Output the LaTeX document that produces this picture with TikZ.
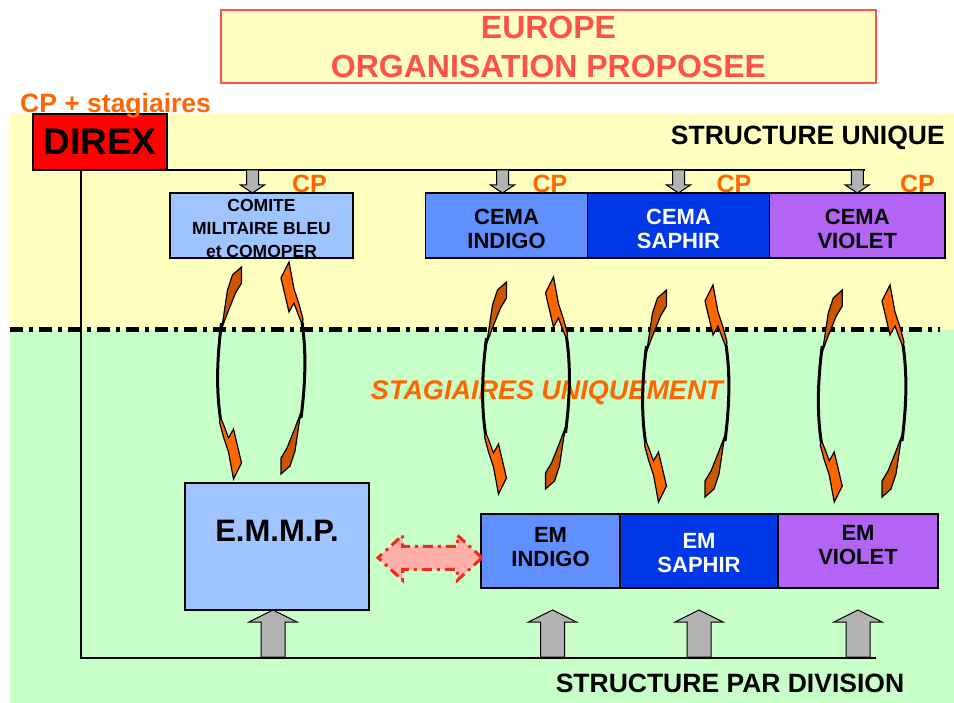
\documentclass[tikz,border=0pt]{standalone}
\usepackage{fontspec}
\setmainfont{Liberation Sans}
\usetikzlibrary{positioning,calc,shapes.arrows}

\definecolor{bandyellow}{RGB}{255,255,192}
\definecolor{bandgreen}{RGB}{200,255,200}
\definecolor{titlered}{RGB}{255,80,80}
\definecolor{cporange}{RGB}{255,102,0}
\definecolor{tailorange}{RGB}{204,85,0}
\definecolor{boxlight}{RGB}{160,196,255}
\definecolor{boxindigo}{RGB}{96,144,255}
\definecolor{boxsaphir}{RGB}{0,56,230}
\definecolor{boxviolet}{RGB}{180,100,245}
\definecolor{arrowgray}{RGB}{178,178,178}
\definecolor{pinkfill}{RGB}{255,176,168}
\definecolor{dashred}{RGB}{240,40,30}

\tikzset{
  box/.style={draw=black, line width=1.2pt, inner sep=0pt, outer sep=0pt, align=center,
    font=\fontsize{22}{24}\selectfont\bfseries},
  cplabel/.style={text=cporange, inner sep=0pt, font=\fontsize{25}{25}\selectfont\bfseries},
  heading/.style={inner sep=0pt, font=\fontsize{26.5}{26.5}\selectfont\bfseries},
  bus/.style={draw=black, line width=1.5pt},
  sepline/.style={draw=black, line width=5pt, dash pattern=on 13pt off 6pt on 4pt off 6pt},
  downarrow/.pic={
    \filldraw[fill=arrowgray, draw=black, line width=1pt]
      (-6,-23) -- (6,-23) -- (6,-8) -- (12,-8) -- (0,0) -- (-12,-8) -- (-6,-8) -- cycle;
  },
  uparrow/.pic={
    \filldraw[fill=arrowgray, draw=black, line width=1pt]
      (-12,47) -- (12,47) -- (12,12) -- (24,12) -- (0,0) -- (-24,12) -- (-12,12) -- cycle;
  },
  swoosh/.pic={
    \draw[black, line width=3pt] (-20,56) .. controls (-25,95) and (-25,125) .. (-21,152);
    \filldraw[fill=tailorange, draw=black, line width=1.2pt]
      (0,0) -- (-9,8) -- (-14,23) -- (-18,50) -- (-20,62) -- (-14,46) -- (-6,26) -- (0,16) -- cycle;
    \filldraw[fill=cporange, draw=black, line width=1.2pt]
      (-21,150) -- (-17,160) -- (-13,171) -- (-8,162) -- (0,196) -- (-8,212)
      -- (-13,185) -- (-18,170) -- (-22,155) -- cycle;
  },
}

\begin{document}
\begin{tikzpicture}[x=1pt, y=-1pt]
  \useasboundingbox (0,0) rectangle (954,703);

  % bands
  \fill[bandyellow] (10,113) rectangle (954,330);
  \fill[bandgreen] (10,330) rectangle (954,703);
  \draw[sepline] (10,330) -- (940,330);

  % title
  \node[draw=titlered, line width=1.5pt, fill=bandyellow, minimum width=655pt, minimum height=73pt,
    inner sep=0pt, align=center, text=titlered, font=\fontsize{32}{39}\selectfont\bfseries]
    (title) at (548.5,46.5) {EUROPE\\ORGANISATION PROPOSEE};

  % direction
  \node[box, fill=red, line width=1.5pt, minimum width=134pt, minimum height=56pt,
    font=\fontsize{37}{37}\selectfont\bfseries] (direx) at (100,142) {DIREX};
  \node[cplabel, anchor=base west, font=\fontsize{26.5}{26.5}\selectfont\bfseries]
    (cpstag) at (20,113) {CP + stagiaires};

  % structure unique
  \node[box, fill=boxlight, minimum width=183pt, minimum height=65pt, text height=64.5pt,
    font=\fontsize{17.5}{23}\selectfont\bfseries] (comite) at (261.5,225.5) {COMITE\\MILITAIRE BLEU\\et COMOPER};
  \node[box, fill=boxindigo, minimum width=162pt, minimum height=65pt, text height=46pt]
    (cemaindigo) at (506.5,225.5) {CEMA\\INDIGO};
  \node[box, fill=boxsaphir, text=white, minimum width=182pt, minimum height=65pt, text height=46pt,
    right=0pt of cemaindigo] (cemasaphir) {CEMA\\SAPHIR};
  \node[box, fill=boxviolet, minimum width=175.5pt, minimum height=65pt, text height=46pt,
    right=0pt of cemasaphir] (cemaviolet) {CEMA\\VIOLET};

  \node[cplabel, anchor=base east] (cpcomite) at ([xshift=-26pt]comite.north east) {CP};
  \node[cplabel, anchor=base east] (cpindigo) at ([xshift=-20pt]cemaindigo.north east) {CP};
  \node[cplabel, anchor=base east] (cpsaphir) at ([xshift=-18pt]cemasaphir.north east) {CP};
  \node[cplabel, anchor=base east] (cpviolet) at ([xshift=-10pt]cemaviolet.north east) {CP};

  \node[heading, anchor=east] (unique) at (945,138) {STRUCTURE UNIQUE};

  % structure par division
  \node[box, fill=boxlight, minimum width=184pt, minimum height=127pt] (emmp) at (277,546.5) {};
  \node[font=\fontsize{31}{31}\selectfont\bfseries, inner sep=0pt] (emmptext) at ([yshift=16pt]emmp.center) {E.M.M.P.};
  \node[box, fill=boxindigo, minimum width=139pt, minimum height=74pt, text depth=8pt]
    (emindigo) at (550.5,551) {EM\\INDIGO};
  \node[box, fill=boxsaphir, text=white, minimum width=158pt, minimum height=74pt, text height=44pt,
    right=0pt of emindigo] (emsaphir) {EM\\SAPHIR};
  \node[box, fill=boxviolet, minimum width=160pt, minimum height=74pt, text depth=12pt,
    right=0pt of emsaphir] (emviolet) {EM\\VIOLET};

  \node[heading] (division) at (730,683) {STRUCTURE PAR DIVISION};
  \node[text=cporange, inner sep=0pt, font=\fontsize{27}{27}\selectfont\bfseries\itshape]
    (stagiaires) at (547,393) {STAGIAIRES UNIQUEMENT};

  % liaisons
  \draw[bus] (direx.south east) -- ([xshift=8pt]cemaviolet.north |- direx.south);
  \coordinate (busleft) at ([xshift=-19pt]direx.south);
  \coordinate (busfoot) at (busleft |- 0,658);
  \coordinate (busend) at (876,658);
  \draw[bus] (busleft) -- (busfoot) -- (busend);

  \pic at ([xshift=-9pt]comite.north) {downarrow};
  \pic at ([xshift=-4pt]cemaindigo.north) {downarrow};
  \pic at (cemasaphir.north) {downarrow};
  \pic at (cemaviolet.north) {downarrow};

  \pic at ([xshift=-4pt]emmp.south) {uparrow};
  \pic at ([xshift=2pt]emindigo.south |- emmp.south) {uparrow};
  \pic at (emsaphir.south |- emmp.south) {uparrow};
  \pic at (emviolet.south |- emmp.south) {uparrow};

  \node[double arrow, draw=dashred, fill=pinkfill, line width=3pt,
    dash pattern=on 10pt off 5pt on 3pt off 5pt, minimum height=104pt,
    inner xsep=0pt, inner ysep=10pt, double arrow head extend=11pt, double arrow tip angle=85]
    (link) at ($(emmp.east)!0.5!(emindigo.west)+(5,9)$) {};

  % echanges
  \pic at ($(comite.south)+(-20,9)$) {swoosh};
  \pic[rotate=180] at ($(emmp.north)+(4,-9)$) {swoosh};
  \pic at ($(cemaindigo.south)+(0,24)$) {swoosh};
  \pic[rotate=180] at ($(emindigo.north)+(-5,-25)$) {swoosh};
  \pic at ($(cemasaphir.south)+(-12,32)$) {swoosh};
  \pic[rotate=180] at ($(emsaphir.north)+(6,-17)$) {swoosh};
  \pic at ($(cemaviolet.south)+(-15,32)$) {swoosh};
  \pic[rotate=180] at ($(emviolet.north)+(24,-17)$) {swoosh};
\end{tikzpicture}
\end{document}
